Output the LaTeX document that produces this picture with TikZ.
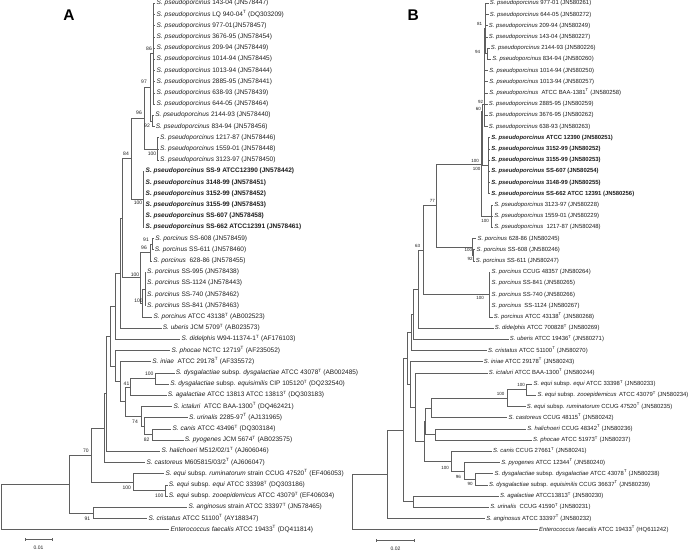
\documentclass[tikz,border=0pt]{standalone}
\usepackage{fontspec}
\setmainfont{Liberation Sans}
\definecolor{lnc}{RGB}{95,95,95}
\definecolor{txc}{RGB}{30,30,30}
\newcommand\spn[1]{\textit{S. #1}}
\newcommand\TT{\textsuperscript{T}}
\newcommand\lfa[4]{\coordinate (#1) at (#2,#3); \node[lfA] (#1t) at (#1) {#4};}
\newcommand\lfb[4]{\coordinate (#1) at (#2,#3); \node[lfB] (#1t) at (#1) {#4};}
\newcommand\bsa[4]{\node[bsA] (#1) at (#2,#3) {#4};}
\newcommand\bsb[4]{\node[bsB] (#1) at (#2,#3) {#4};}
\tikzset{
 br/.style={draw=lnc, line width=0.55pt},
 lfA/.style={anchor=west, inner xsep=1.2pt, inner ysep=0pt, text=txc, font=\fontsize{6.5}{7}\selectfont, text height=4.6pt, text depth=1.3pt},
 lfB/.style={lfA, font=\fontsize{5.9}{7}\selectfont, text height=4.3pt, text depth=1.2pt},
 bsA/.style={inner sep=0pt, text=txc, font=\fontsize{5}{6}\selectfont},
 bsB/.style={bsA, font=\fontsize{4.5}{5}\selectfont},
 panel/.style={inner sep=0pt, text=black, font=\bfseries\fontsize{15.5}{16}\selectfont},
 sclbl/.style={inner sep=0pt, text=txc, font=\fontsize{5}{6}\selectfont},
}
\begin{document}
\begin{tikzpicture}[x=1pt,y=-1pt]
\fill[white] (0,0) rectangle (691,550);
\useasboundingbox (0,0) rectangle (691,550);
\node[panel] (labA) at (69,15) {A};
\node[panel] (labB) at (413.3,15) {B};
% ---------------- Panel A leaves
\lfa{a0}{155.3}{3.3}{\spn{pseudoporcinus} 143-04 (JN578447)}
\lfa{a1}{155.3}{14.5}{\spn{pseudoporcinus} LQ 940-04\TT{} (DQ303209)}
\lfa{a2}{155.3}{25.7}{\spn{pseudoporcinus} 977-01(JN578457)}
\lfa{a3}{155.3}{36.9}{\spn{pseudoporcinus} 3676-95 (JN578454)}
\lfa{a4}{155.3}{48.1}{\spn{pseudoporcinus} 209-94 (JN578449)}
\lfa{a5}{155.3}{59.3}{\spn{pseudoporcinus} 1014-94 (JN578445)}
\lfa{a6}{155.3}{70.5}{\spn{pseudoporcinus} 1013-94 (JN578444)}
\lfa{a7}{155.3}{81.7}{\spn{pseudoporcinus} 2885-95 (JN578441)}
\lfa{a8}{155.3}{92.9}{\spn{pseudoporcinus} 638-93 (JN578439)}
\lfa{a9}{155.3}{104.1}{\spn{pseudoporcinus} 644-05 (JN578464)}
\lfa{a10}{154}{115.3}{\spn{pseudoporcinus} 2144-93 (JN578440)}
\lfa{a11}{154.5}{126.5}{\spn{pseudoporcinus} 834-94 (JN578456)}
\lfa{a12}{158.8}{137.7}{\spn{pseudoporcinus} 1217-87 (JN578446)}
\lfa{a13}{158.8}{148.9}{\spn{pseudoporcinus} 1559-01 (JN578448)}
\lfa{a14}{158.8}{160.1}{\spn{pseudoporcinus} 3123-97 (JN578450)}
\lfa{a15}{144.3}{171.3}{\textbf{\spn{pseudoporcinus} SS-9 ATCC12390 (JN578442)}}
\lfa{a16}{144.3}{182.5}{\textbf{\spn{pseudoporcinus} 3148-99 (JN578451)}}
\lfa{a17}{144.3}{193.7}{\textbf{\spn{pseudoporcinus} 3152-99 (JN578452)}}
\lfa{a18}{144.3}{204.9}{\textbf{\spn{pseudoporcinus} 3155-99 (JN578453)}}
\lfa{a19}{144.3}{216.1}{\textbf{\spn{pseudoporcinus} SS-607 (JN578458)}}
\lfa{a20}{144.3}{227.3}{\textbf{\spn{pseudoporcinus} SS-662 ATCC12391 (JN578461)}}
\lfa{a21}{154}{238.5}{\spn{porcinus} SS-608 (JN578459)}
\lfa{a22}{153.5}{249.7}{\spn{porcinus} SS-611 (JN578460)}
\lfa{a23}{152}{260.9}{\spn{porcinus}\ \ 628-86 (JN578455)}
\lfa{a24}{145.8}{272.1}{\spn{porcinus} SS-995 (JN578438)}
\lfa{a25}{145.8}{283.3}{\spn{porcinus} SS-1124 (JN578443)}
\lfa{a26}{145.8}{294.5}{\spn{porcinus} SS-740 (JN578462)}
\lfa{a27}{145.8}{305.7}{\spn{porcinus} SS-841 (JN578463)}
\lfa{a28}{152.3}{316.9}{\spn{porcinus} ATCC 43138\TT{} (AB002523)}
\lfa{a29}{161.5}{328.1}{\spn{uberis} JCM 5709\TT{} (AB023573)}
\lfa{a30}{180.3}{339.3}{\spn{didelphis} W94-11374-1\TT{} (AF176103)}
\lfa{a31}{170.3}{350.5}{\spn{phocae} NCTC 12719\TT{} (AF235052)}
\lfa{a32}{151}{361.7}{\spn{iniae}\ \ ATCC 29178\TT{} (AF335572)}
\lfa{a33}{174.5}{372.9}{\spn{dysgalactiae} subsp. \textit{dysgalactiae} ATCC 43078\TT{} (AB002485)}
\lfa{a34}{169}{384.1}{\spn{dysgalactiae} subsp. \textit{equisimilis} CIP 105120\TT{} (DQ232540)}
\lfa{a35}{166.5}{395.3}{\spn{agalactiae} ATCC 13813 ATCC 13813\TT{} (DQ303183)}
\lfa{a36}{172.3}{406.5}{\spn{ictaluri}\ \ ATCC BAA-1300\TT{} (DQ462421)}
\lfa{a37}{187.8}{417.7}{\spn{urinalis} 2285-97\TT{} (AJ131965)}
\lfa{a38}{171.2}{428.9}{\spn{canis} ATCC 43496\TT{} (DQ303184)}
\lfa{a39}{183.5}{440.1}{\spn{pyogenes} JCM 5674\TT{} (AB023575)}
\lfa{a40}{160.2}{451.3}{\spn{halichoeri} M512/02/1\TT{} (AJ606046)}
\lfa{a41}{145.2}{462.5}{\spn{castoreus} M605815/03/2\TT{} (AJ606047)}
\lfa{a42}{164.2}{473.7}{\spn{equi} subsp. \textit{ruminatorum} strain CCUG 47520\TT{} (EF406053)}
\lfa{a43}{167.5}{484.9}{\spn{equi} subsp. \textit{equi} ATCC 33398\TT{} (DQ303186)}
\lfa{a44}{167.5}{496.1}{\spn{equi} subsp. \textit{zooepidemicus} ATCC 43079\TT{} (EF406034)}
\lfa{a45}{187.2}{507.3}{\spn{anginosus} strain ATCC 33397\TT{} (JN578465)}
\lfa{a46}{147.2}{518.5}{\spn{cristatus} ATCC 51100\TT{} (AY188347)}
\lfa{a47}{169.2}{529.7}{\textit{Enterococcus faecalis} ATCC 19433\TT{} (DQ411814)}
% ---------------- Panel A internal nodes
\coordinate (C86) at (153.7,53.7);
\coordinate (C92a) at (152.3,120.9);
\coordinate (C97) at (150,87.3);
\coordinate (C100a) at (157.3,148.9);
\coordinate (C96a) at (144,118.1);
\coordinate (Cbold) at (143.2,199.3);
\coordinate (C84) at (131.7,158.7);
\coordinate (C91) at (152.3,244.1);
\coordinate (C96b) at (150,252.5);
\coordinate (C100b) at (145.3,288.9);
\coordinate (C100c) at (142.7,302.9);
\coordinate (C100d) at (140,277.7);
\coordinate (CX1) at (122.7,218.2);
\coordinate (CX2) at (120.7,273.15);
\coordinate (CY) at (115,306.2);
\coordinate (C100e) at (155,378.5);
\coordinate (C41) at (130,386.9);
\coordinate (C82) at (152.3,434.5);
\coordinate (C74a) at (144,426.1);
\coordinate (C74) at (141.7,416.3);
\coordinate (CP) at (125,401.6);
\coordinate (CI) at (120,381.65);
\coordinate (CPh) at (115,366.1);
\coordinate (CR) at (110,336.15);
\coordinate (CH) at (106.7,393.7);
\coordinate (Q) at (104,428.1);
\coordinate (C100f) at (165.7,490.5);
\coordinate (Cequi) at (133.3,482.1);
\coordinate (N70) at (91.7,455.1);
\coordinate (C91b) at (93.3,512.9);
\coordinate (CB) at (69,484);
\coordinate (RootA) at (0.8,506.85);
\foreach \p/\c in {C86/a0,C86/a1,C86/a2,C86/a3,C86/a4,C86/a5,C86/a6,C86/a7,C86/a8,C86/a9,
  C92a/a10,C92a/a11,C97/C86,C97/C92a,C100a/a12,C100a/a13,C100a/a14,C96a/C97,C96a/C100a,
  Cbold/a15,Cbold/a16,Cbold/a17,Cbold/a18,Cbold/a19,Cbold/a20,C84/C96a,C84/Cbold,
  C91/a21,C91/a22,C96b/C91,C96b/a23,C100b/a24,C100b/a25,C100b/a26,C100b/a27,
  C100c/C100b,C100c/a28,C100d/C96b,C100d/C100c,CX1/C84,CX1/C100d,CX2/CX1,CX2/a29,
  CY/CX2,CY/a30,C100e/a33,C100e/a34,C41/C100e,C41/a35,C82/a38,C82/a39,C74a/a37,C74a/C82,
  C74/a36,C74/C74a,CP/C41,CP/C74,CI/a32,CI/CP,CPh/a31,CPh/CI,CR/CY,CR/CPh,CH/CR,CH/a40,
  Q/CH,Q/a41,C100f/a43,C100f/a44,Cequi/a42,Cequi/C100f,N70/Q,N70/Cequi,C91b/a45,C91b/a46,
  CB/N70,CB/C91b,RootA/CB,RootA/a47}
  {\draw[br] (\p) |- (\c);}
% bootstrap A
\bsa{ba1}{149}{49}{86}
\bsa{ba2}{144}{82}{97}
\bsa{ba3}{147}{125.7}{92}
\bsa{ba4}{139}{113}{96}
\bsa{ba5}{152}{153.5}{100}
\bsa{ba6}{126}{154}{84}
\bsa{ba7}{138}{203}{100}
\bsa{ba8}{146}{239.5}{91}
\bsa{ba9}{144}{248}{96}
\bsa{ba10}{135}{275}{100}
\bsa{ba11}{138.5}{300.5}{100}
\bsa{ba12}{149.3}{374}{100}
\bsa{ba13}{126.5}{383.8}{41}
\bsa{ba14}{135}{421.5}{74}
\bsa{ba15}{146.7}{440}{82}
\bsa{ba16}{86}{451}{70}
\bsa{ba17}{126.7}{487.3}{100}
\bsa{ba18}{159.3}{495.7}{100}
\bsa{ba19}{87.3}{518.3}{91}
% scale A
\coordinate (sa1) at (25,539.3);
\coordinate (sa2) at (52.7,539.3);
\draw[br] (sa1) -- (sa2);
\draw[br] ([yshift=-1.5pt]sa1) -- ([yshift=1.5pt]sa1);
\draw[br] ([yshift=-1.5pt]sa2) -- ([yshift=1.5pt]sa2);
\node[sclbl] (sla) at (38.5,548) {0.01};
% ---------------- Panel B leaves
\lfb{b0}{488.5}{3.3}{\spn{pseudoporcinus} 977-01 (JN580261)}
\lfb{b1}{488.5}{14.5}{\spn{pseudoporcinus} 644-05 (JN580272)}
\lfb{b2}{487.5}{25.7}{\spn{pseudoporcinus} 209-94 (JN580249)}
\lfb{b3}{487.5}{36.9}{\spn{pseudoporcinus} 143-04 (JN580227)}
\lfb{b4}{489.5}{48.1}{\spn{pseudoporcinus} 2144-93 (JN580226)}
\lfb{b5}{491}{59.3}{\spn{pseudoporcinus} 834-94 (JN580260)}
\lfb{b6}{488}{70.5}{\spn{pseudoporcinus} 1014-94 (JN580250)}
\lfb{b7}{488}{81.7}{\spn{pseudoporcinus} 1013-94 (JN580257)}
\lfb{b8}{488}{92.9}{\spn{pseudoporcinus}\ \ ATCC BAA-1381\TT{} (JN580258)}
\lfb{b9}{487.5}{104.1}{\spn{pseudoporcinus} 2885-95 (JN580259)}
\lfb{b10}{487.5}{115.3}{\spn{pseudoporcinus} 3676-95 (JN580262)}
\lfb{b11}{487.5}{126.5}{\spn{pseudoporcinus} 638-93 (JN580263)}
\lfb{b12}{490}{137.7}{\textbf{\spn{pseudoporcinus} ATCC 12390 (JN580251)}}
\lfb{b13}{490}{148.9}{\textbf{\spn{pseudoporcinus} 3152-99 (JN580252)}}
\lfb{b14}{490}{160.1}{\textbf{\spn{pseudoporcinus} 3155-99 (JN580253)}}
\lfb{b15}{490}{171.3}{\textbf{\spn{pseudoporcinus} SS-607 (JN580254)}}
\lfb{b16}{490}{182.5}{\textbf{\spn{pseudoporcinus} 3148-99 (JN580255)}}
\lfb{b17}{490}{193.7}{\textbf{\spn{pseudoporcinus} SS-662 ATCC 12391 (JN580256)}}
\lfb{b18}{493}{204.9}{\spn{pseudoporcinus} 3123-97 (JN580228)}
\lfb{b19}{493}{216.1}{\spn{pseudoporcinus} 1559-01 (JN580229)}
\lfb{b20}{493}{227.3}{\spn{pseudoporcinus}\ \ 1217-87 (JN580248)}
\lfb{b21}{476.2}{238.5}{\spn{porcinus} 628-86 (JN580245)}
\lfb{b22}{475.2}{249.7}{\spn{porcinus} SS-608 (JN580246)}
\lfb{b23}{474.5}{260.9}{\spn{porcinus} SS-611 (JN580247)}
\lfb{b24}{490.3}{272.1}{\spn{porcinus} CCUG 48357 (JN580264)}
\lfb{b25}{490.3}{283.3}{\spn{porcinus} SS-841 (JN580265)}
\lfb{b26}{490.3}{294.5}{\spn{porcinus} SS-740 (JN580266)}
\lfb{b27}{490.3}{305.7}{\spn{porcinus}\ \ SS-1124 (JN580267)}
\lfb{b28}{492.5}{316.9}{\spn{porcinus} ATCC 43138\TT{} (JN580268)}
\lfb{b29}{493.5}{328.1}{\spn{didelphis} ATCC 700828\TT{} (JN580269)}
\lfb{b30}{508.5}{339.3}{\spn{uberis} ATCC 19436\TT{} (JN580271)}
\lfb{b31}{486.8}{350.5}{\spn{cristatus} ATCC 51100\TT{} (JN580270)}
\lfb{b32}{482.5}{361.7}{\spn{iniae} ATCC 29178\TT{} (JN580243)}
\lfb{b33}{487.5}{372.9}{\spn{ictaluri} ATCC BAA-1300\TT{} (JN580244)}
\lfb{b34}{532.3}{384.1}{\spn{equi} subsp. \textit{equi} ATCC 33398\TT{} (JN580233)}
\lfb{b35}{536.2}{395.3}{\spn{equi} subsp. \textit{zooepidemicus}\hspace{0.15em} ATCC 43079\TT{} (JN580234)}
\lfb{b36}{525.5}{406.5}{\spn{equi} subsp. \textit{ruminatorum} CCUG 47520\TT{} (JN580235)}
\lfb{b37}{507.3}{417.7}{\spn{castoreus} CCUG 48115\TT{} (JN580242)}
\lfb{b38}{526}{428.9}{\spn{halichoeri} CCUG 48342\TT{} (JN580236)}
\lfb{b39}{531.7}{440.1}{\spn{phocae} ATCC 51973\TT{} (JN580237)}
\lfb{b40}{491.7}{451.3}{\spn{canis} CCUG 27661\TT{} (JN580241)}
\lfb{b41}{500}{462.5}{\spn{pyogenes} ATCC 12344\TT{} (JN580240)}
\lfb{b42}{493.3}{473.7}{\spn{dysgalactiae} subsp. \textit{dysgalactiae} ATCC 43078\TT{} (JN580238)}
\lfb{b43}{487.7}{484.9}{\spn{dysgalactiae} subsp. \textit{equisimilis} CCUG 36637\TT{} (JN580239)}
\lfb{b44}{498.7}{496.1}{\spn{agalactiae} ATCC13813\TT{} (JN580230)}
\lfb{b45}{489}{507.3}{\spn{urinalis}\ \ CCUG 41590\TT{} (JN580231)}
\lfb{b46}{485}{518.5}{\spn{anginosus} ATCC 33397\TT{} (JN580232)}
\lfb{b47}{537.7}{529.7}{\textit{Enterococcus faecalis} ATCC 19433\TT{} (HQ611242)}
% ---------------- Panel B internal nodes
\coordinate (C94) at (487.3,53.7);
\coordinate (C81) at (485.5,28.5);
\coordinate (C92B) at (484.3,104);
\coordinate (C60) at (482.7,111.7);
\coordinate (CboldB) at (488.5,165.7);
\coordinate (C3B) at (491.5,216.1);
\coordinate (N100B) at (481.7,163.9);
\coordinate (C92b) at (473.7,255.3);
\coordinate (C100cB) at (472.5,246.9);
\coordinate (C77) at (436.7,205.4);
\coordinate (Cpor) at (489.3,294.5);
\coordinate (C63) at (423.3,249.95);
\coordinate (D) at (418.3,289.0);
\coordinate (U) at (413.3,314.15);
\coordinate (Cr) at (411,332.3);
\coordinate (C100ee) at (526.7,389.7);
\coordinate (C100eq) at (507.7,398.1);
\coordinate (E) at (431,407.9);
\coordinate (H) at (435.7,434.5);
\coordinate (G2) at (425.7,421.2);
\coordinate (C90) at (475.7,479.3);
\coordinate (C96c) at (464.3,470.9);
\coordinate (C100k) at (451,461.1);
\coordinate (G1) at (424.3,441.15);
\coordinate (IC) at (415.7,407.0);
\coordinate (IN) at (410.7,384.35);
\coordinate (P407) at (407,358.3);
\coordinate (AU) at (413.3,501.7);
\coordinate (P403) at (403.3,430.0);
\coordinate (R1) at (387.7,474.25);
\coordinate (RootB) at (352.3,502);
\foreach \p/\c in {C94/b4,C94/b5,C81/b0,C81/b1,C81/b2,C81/b3,C81/C94,
  C92B/C81,C92B/b6,C92B/b7,C92B/b8,C92B/b9,C92B/b10,C92B/b11,C60/C92B,C60/CboldB,
  CboldB/b12,CboldB/b13,CboldB/b14,CboldB/b15,CboldB/b16,CboldB/b17,
  C3B/b18,C3B/b19,C3B/b20,N100B/C60,N100B/C3B,C92b/b22,C92b/b23,C100cB/b21,C100cB/C92b,
  C77/N100B,C77/C100cB,Cpor/b24,Cpor/b25,Cpor/b26,Cpor/b27,Cpor/b28,C63/C77,C63/Cpor,
  D/C63,D/b29,U/D,U/b30,Cr/U,Cr/b31,C100ee/b34,C100ee/b35,C100eq/C100ee,C100eq/b36,
  E/C100eq,E/b37,H/b38,H/b39,G2/E,G2/H,C90/b42,C90/b43,C96c/b41,C96c/C90,C100k/b40,C100k/C96c,
  G1/G2,G1/C100k,IC/b33,IC/G1,IN/b32,IN/IC,P407/Cr,P407/IN,AU/b44,AU/b45,P403/P407,P403/AU,
  R1/P403,R1/b46,RootB/R1,RootB/b47}
  {\draw[br] (\p) |- (\c);}
% bootstrap B
\bsb{bb1}{479.7}{24}{81}
\bsb{bb2}{477.7}{51.7}{94}
\bsb{bb3}{480.5}{101.8}{92}
\bsb{bb4}{478.3}{109.3}{60}
\bsb{bb5}{475}{160.7}{100}
\bsb{bb6}{476.7}{169.3}{100}
\bsb{bb7}{485}{221}{100}
\bsb{bb8}{468.3}{249.8}{100}
\bsb{bb9}{470}{259}{92}
\bsb{bb10}{432.3}{201}{77}
\bsb{bb11}{417.7}{246}{63}
\bsb{bb12}{480}{298.3}{100}
\bsb{bb13}{521}{384.5}{100}
\bsb{bb14}{500.5}{393.5}{100}
\bsb{bb15}{445}{467.7}{100}
\bsb{bb16}{458.3}{477.3}{96}
\bsb{bb17}{470}{484}{90}
% scale B
\coordinate (sb1) at (376.7,540);
\coordinate (sb2) at (414.3,540);
\draw[br] (sb1) -- (sb2);
\draw[br] ([yshift=-1.5pt]sb1) -- ([yshift=1.5pt]sb1);
\draw[br] ([yshift=-1.5pt]sb2) -- ([yshift=1.5pt]sb2);
\node[sclbl] (slb) at (395.5,548.3) {0.02};
\end{tikzpicture}
\end{document}
